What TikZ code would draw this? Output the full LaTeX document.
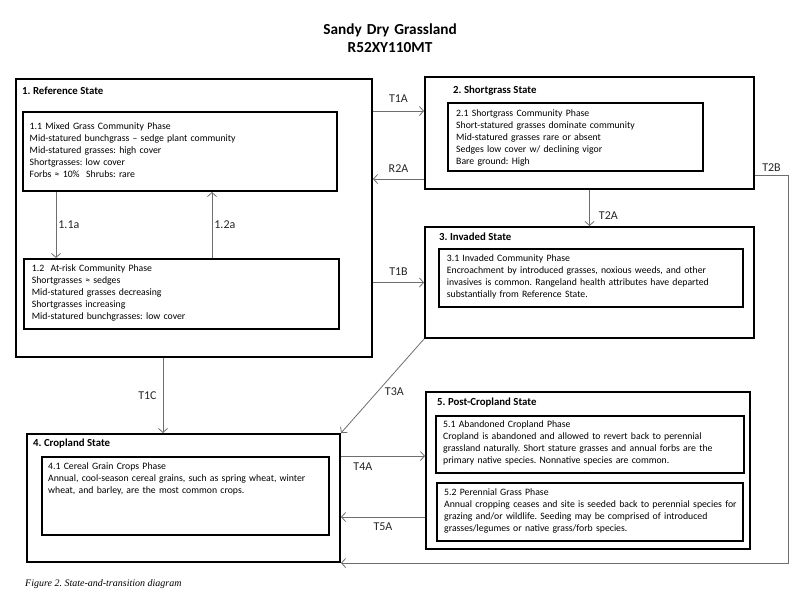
\documentclass[tikz,border=0pt]{standalone}
\usepackage{fontspec}
\setmainfont{Carlito}
\newfontfamily\capfont{Liberation Serif}
\usetikzlibrary{arrows.meta}
\definecolor{trgray}{RGB}{110,110,110}
\frenchspacing

\begin{document}
\begin{tikzpicture}[x=1pt, y=-1pt,
  state/.style={draw, line width=2pt, anchor=north west, inner sep=0pt},
  phase/.style={draw, line width=2pt, anchor=north west, inner sep=0pt},
  stitle/.style={anchor=base west, inner sep=0pt, font=\bfseries\fontsize{10.8}{12}\selectfont},
  ptext/.style={anchor=base west, inner sep=0pt, text width=320pt, align=left, font=\fontsize{9.75}{12}\selectfont},
  tr/.style={draw=trgray, line width=0.8pt, -{Straight Barb[length=4pt,width=9pt]}},
  tlabel/.style={font=\fontsize{12}{12}\selectfont, text=black!85, inner sep=2pt}]

  \useasboundingbox (0,0) rectangle (800,600);

  \node[anchor=base, inner sep=0pt, text width=220pt, align=center, font=\bfseries\fontsize{15.3}{18}\selectfont] (title) at (390,34.5) {Sandy Dry Grassland\\R52XY110MT};

  \node[state, minimum width=356, minimum height=278] (S1) at (15,78) {};
  \node[state, minimum width=329, minimum height=112] (S2) at (424,76) {};
  \node[state, minimum width=329, minimum height=111] (S3) at (424,226) {};
  \node[state, minimum width=313, minimum height=128] (S4) at (26,433) {};
  \node[state, minimum width=324, minimum height=157] (S5) at (425,391) {};

  \node[stitle] (S1title) at ([shift={(7pt,-16pt)}]S1.north west) {1. Reference State};
  \node[stitle] (S2title) at ([shift={(29pt,-17pt)}]S2.north west) {2. Shortgrass State};
  \node[stitle] (S3title) at ([shift={(15pt,-14pt)}]S3.north west) {3. Invaded State};
  \node[stitle] (S4title) at ([shift={(7pt,-13.5pt)}]S4.north west) {4. Cropland State};
  \node[stitle] (S5title) at ([shift={(12pt,-14.5pt)}]S5.north west) {5. Post-Cropland State};

  \node[phase, minimum width=314, minimum height=79] (P11) at (22,111) {};
  \node[phase, minimum width=315, minimum height=70] (P12) at (23,258) {};
  \node[phase, minimum width=255, minimum height=68] (P21) at (447,102) {};
  \node[phase, minimum width=304, minimum height=58] (P31) at (438,248) {};
  \node[phase, minimum width=287, minimum height=78] (P41) at (41,456) {};
  \node[phase, minimum width=308, minimum height=57] (P51) at (435,415) {};
  \node[phase, minimum width=306, minimum height=58] (P52) at (436,482) {};

  \node[ptext] (P11text) at ([shift={(7.5pt,-18pt)}]P11.north west) {1.1 Mixed Grass Community Phase\\Mid-statured bunchgrass – sedge plant community\\Mid-statured grasses: high cover\\Shortgrasses: low cover\\Forbs ≈ 10\%\ \ Shrubs: rare};
  \node[ptext] (P12text) at ([shift={(8.7pt,-13.5pt)}]P12.north west) {1.2\ \ At-risk Community Phase\\Shortgrasses ≈ sedges\\Mid-statured grasses decreasing\\Shortgrasses increasing\\Mid-statured bunchgrasses: low cover};
  \node[ptext] (P21text) at ([shift={(9pt,-14pt)}]P21.north west) {2.1 Shortgrass Community Phase\\Short-statured grasses dominate community\\Mid-statured grasses rare or absent\\Sedges low cover w/ declining vigor\\Bare ground: High};
  \node[ptext] (P31text) at ([shift={(8.7pt,-13.5pt)}]P31.north west) {3.1 Invaded Community Phase\\Encroachment by introduced grasses, noxious weeds, and other\\invasives is common. Rangeland health attributes have departed\\substantially from Reference State.};
  \node[ptext] (P41text) at ([shift={(7pt,-13.5pt)}]P41.north west) {4.1 Cereal Grain Crops Phase\\Annual, cool-season cereal grains, such as spring wheat, winter\\wheat, and barley, are the most common crops.};
  \node[ptext] (P51text) at ([shift={(8pt,-12.5pt)}]P51.north west) {5.1 Abandoned Cropland Phase\\Cropland is abandoned and allowed to revert back to perennial\\grassland naturally. Short stature grasses and annual forbs are the\\primary native species. Nonnative species are common.};
  \node[ptext] (P52text) at ([shift={(8pt,-13pt)}]P52.north west) {5.2 Perennial Grass Phase\\Annual cropping ceases and site is seeded back to perennial species for\\grazing and/or wildlife. Seeding may be comprised of introduced\\grasses/legumes or native grass/forb species.};

  \coordinate (A11) at ([xshift=34pt]P11.south west);
  \coordinate (A12) at ([xshift=189pt]P12.north west);
  \coordinate (R2Astart) at ([yshift=11pt]S2.south west);
  \coordinate (T2Bstart) at ([yshift=15pt]S2.south east);
  \coordinate (T1Cstart) at ([xshift=148pt]S1.south west);
  \coordinate (T5Astart) at ([yshift=33pt]S5.south west);

  \draw[tr] (A11) -- (A11 |- P12.north) node[midway,right,tlabel] {1.1a};
  \draw[tr] (A12) -- (A12 |- P11.south) node[midway,right,tlabel] {1.2a};
  \draw[tr] (S1.east |- P11.north) -- (S2.west |- P11.north) node[midway,above=6pt,tlabel] {T1A};
  \draw[tr] (R2Astart) -- (R2Astart -| S1.east) node[midway,above=4pt,tlabel] {R2A};
  \draw[tr] (S1.east |- S3.west) -- (S3.west) node[midway,above=5pt,tlabel] {T1B};
  \draw[tr] (S2.south) -- (S3.north) node[pos=0.7,right=7pt,tlabel] {T2A};
  \draw[tr] (T2Bstart) -- ++(33,0) node[midway,above=1pt,tlabel] {T2B} |- (S4.south east);
  \draw[tr] (T1Cstart) -- (T1Cstart |- S4.north) node[midway,left=4pt,tlabel] {T1C};
  \draw[tr] (S3.south west) -- (S4.north east) node[pos=0.56,right=5pt,tlabel] {T3A};
  \draw[tr] (S4.east |- P41.north) -- (S5.west |- P41.north) node[pos=0.26,below=4pt,tlabel] {T4A};
  \draw[tr] (T5Astart) -- (T5Astart -| S4.east) node[midway,below=3pt,tlabel] {T5A};

  \node[anchor=base west, inner sep=0pt, font=\capfont\itshape\fontsize{10}{12}\selectfont] (caption) at (25,586) {Figure 2. State-and-transition diagram};
\end{tikzpicture}
\end{document}
